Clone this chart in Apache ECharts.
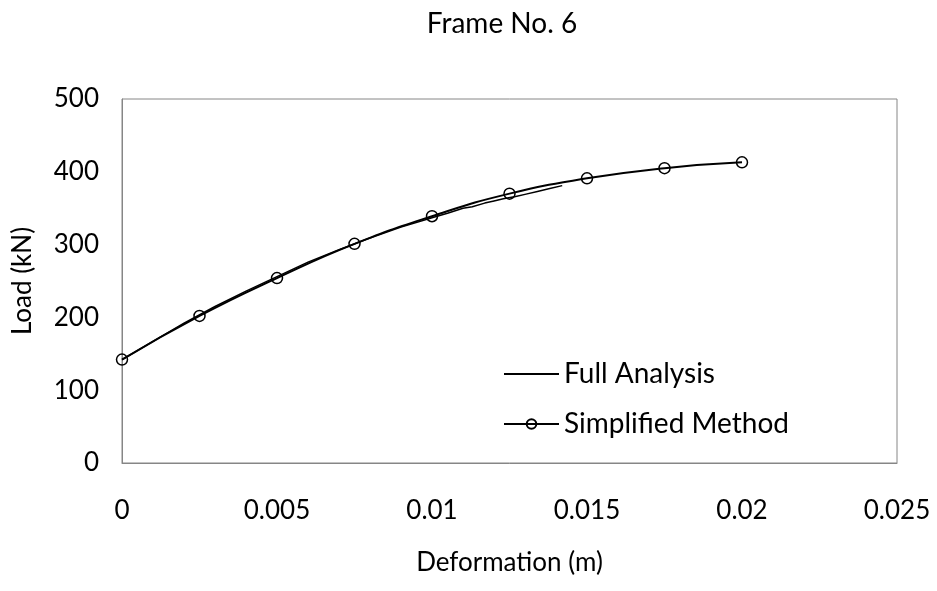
<!DOCTYPE html>
<html>
<head>
<meta charset="utf-8">
<title>Frame No. 6</title>
<script src="https://cdn.jsdelivr.net/npm/echarts@6/dist/echarts.min.js"></script>
<style>
  html, body { margin: 0; padding: 0; background: #fff; }
  #chart { width: 937px; height: 591px; }
</style>
</head>
<body>
<div id="chart"></div>
<script>
  // Full Analysis: deformation (m) / load (kN)
  var fullX = [0, 0.001, 0.002, 0.003, 0.004, 0.005, 0.006, 0.007, 0.008, 0.009, 0.010,
               0.0105, 0.011, 0.0113, 0.0117, 0.012, 0.0123, 0.0127, 0.013, 0.0134, 0.0138, 0.0142];
  var fullY = [142, 167, 192, 215, 236, 256, 276, 293, 309, 324, 337,
               343, 350, 352, 357, 360, 363, 366, 369, 373, 377, 381];

  // Simplified Method
  var simpX = [0, 0.0025, 0.005, 0.0075, 0.01, 0.0125, 0.015, 0.0175, 0.02];
  var simpY = [142, 202, 254, 301, 339, 370, 391, 405, 413];

  var xTicks = { min: 0, max: 0.025, interval: 0.005 };
  var yTicks = { min: 0, max: 500, interval: 100 };

  var font = 'Lato';

  function pairs(xs, ys) {
    return xs.map(function (v, i) { return [v, ys[i]]; });
  }

  var myChart = echarts.init(document.getElementById('chart'));
  var option = {
    animation: false,
    backgroundColor: '#fff',
    title: {
      text: 'Frame No. 6',
      left: 497,
      top: 5,
      textAlign: 'center',
      textStyle: { fontFamily: font, fontSize: 28, fontWeight: 'normal', color: '#000' }
    },
    grid: {
      left: 122,
      right: 40,
      top: 99,
      bottom: 128,
      show: true,
      borderColor: '#868686',
      borderWidth: 1
    },
    legend: {
      orient: 'vertical',
      left: 503,
      top: 360,
      padding: 0,
      itemWidth: 55,
      itemHeight: 12,
      itemGap: 22,
      textStyle: { fontFamily: font, fontSize: 28, color: '#000', lineHeight: 27 },
      data: ['Full Analysis', 'Simplified Method']
    },
    xAxis: {
      type: 'value',
      min: xTicks.min,
      max: xTicks.max,
      interval: xTicks.interval,
      name: 'Deformation (m)',
      nameLocation: 'middle',
      nameGap: 87,
      nameTextStyle: { fontFamily: font, fontSize: 26, color: '#000' },
      axisLine: { show: true, lineStyle: { color: '#868686' } },
      axisTick: { show: false },
      splitLine: { show: false },
      axisLabel: { fontFamily: font, fontSize: 26, color: '#000', margin: 35 }
    },
    yAxis: {
      type: 'value',
      min: yTicks.min,
      max: yTicks.max,
      interval: yTicks.interval,
      name: 'Load (kN)',
      nameLocation: 'middle',
      nameGap: 86,
      nameTextStyle: { fontFamily: font, fontSize: 26, color: '#000' },
      axisLine: { show: true, lineStyle: { color: '#868686' } },
      axisTick: { show: false },
      splitLine: { show: false },
      axisLabel: { fontFamily: font, fontSize: 26, color: '#000', margin: 23 }
    },
    series: [
      {
        name: 'Full Analysis',
        type: 'line',
        symbol: 'none',
        data: pairs(fullX, fullY),
        // transparent item colour so the legend shows only the line
        itemStyle: { color: 'rgba(0,0,0,0)' },
        lineStyle: { color: '#000', width: 1.5 },
        z: 3
      },
      {
        name: 'Simplified Method',
        type: 'line',
        smooth: true,
        symbol: 'circle',
        symbolSize: 11,
        data: pairs(simpX, simpY),
        itemStyle: { color: 'rgba(0,0,0,0)', borderColor: '#000', borderWidth: 1.5 },
        lineStyle: { color: '#000', width: 2 },
        z: 2
      }
    ]
  };
  myChart.setOption(option);
</script>
</body>
</html>
